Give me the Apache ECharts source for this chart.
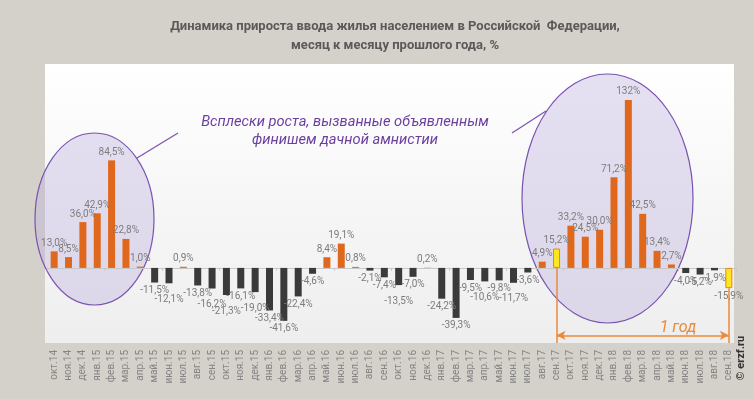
<!DOCTYPE html>
<html>
<head>
<meta charset="utf-8">
<script src="https://cdn.jsdelivr.net/npm/echarts@6/dist/echarts.min.js"></script>
<style>
  html, body { margin: 0; padding: 0; background: #d4d0ca; }
  #chart { width: 753px; height: 399px; }
</style>
</head>
<body>
<div id="chart"></div>
<script>
const months = [
  'окт.14', 'ноя.14', 'дек.14', 'янв.15', 'фев.15', 'мар.15', 'апр.15', 'май.15', 'июн.15', 'июл.15', 'авг.15', 'сен.15',
  'окт.15', 'ноя.15', 'дек.15', 'янв.16', 'фев.16', 'мар.16', 'апр.16', 'май.16', 'июн.16', 'июл.16', 'авг.16', 'сен.16',
  'окт.16', 'ноя.16', 'дек.16', 'янв.17', 'фев.17', 'мар.17', 'апр.17', 'май.17', 'июн.17', 'июл.17', 'авг.17', 'сен.17',
  'окт.17', 'ноя.17', 'дек.17', 'янв.18', 'фев.18', 'мар.18', 'апр.18', 'май.18', 'июн.18', 'июл.18', 'авг.18', 'сен.18'
]
const growth = [
  13.0, 8.5, 36.0, 42.9, 84.5, 22.8, 1.0, -11.5, -12.1, 0.9, -13.8, -16.2,
  -21.3, -16.1, -19.0, -33.4, -41.6, -22.4, -4.6, 8.4, 19.1, 0.8, -2.1, -7.4,
  -13.5, -7.0, 0.2, -24.2, -39.3, -9.5, -10.6, -9.8, -11.7, -3.6, 4.9, 15.2,
  33.2, 24.5, 30.0, 71.2, 132, 42.5, 13.4, 2.7, -4.0, -5.2, -1.9, -15.9
]
// месяцы, отмеченные жёлтым (начало и конец "1 год")
const marked = ['сен.17', 'сен.18']
// подписи, сдвинутые вниз, чтобы не налезали
const pushedDown = ['июн.15', 'сен.15', 'окт.15', 'дек.15', 'окт.16', 'апр.17', 'июн.17']

const orange = '#e0681c'
const dark = '#3a3a3a'
const purple = '#6b3fa0'
const yearColor = '#ea8a3a'
const narrow = '"Liberation Sans Narrow", "Roboto"'

const fmt = v => (Math.abs(v) >= 100 ? String(Math.round(v)) : v.toFixed(1).replace('.', ',')) + '%'

const barData = growth.map((v, i) => {
  const m = months[i]
  let item = { value: v, itemStyle: { color: v >= 0 ? orange : dark } }
  if (marked.includes(m)) {
    item.itemStyle = { color: '#ffe61e', borderColor: '#e8841e', borderWidth: 1 }
  }
  item.label = {
    position: v >= 0 ? 'top' : 'bottom',
    offset: [0, pushedDown.includes(m) ? 8 : 0]
  }
  return item
})

const chart = echarts.init(document.getElementById('chart'))
const option = {
  backgroundColor: '#d4d0ca',
  animation: false,
  textStyle: { fontFamily: 'Roboto' },
  title: {
    text: 'Динамика прироста ввода жилья населением в Российской  Федерации,\nмесяц к месяцу прошлого года, %',
    left: 390,
    textAlign: 'center',
    top: 12,
    textStyle: { fontSize: 13, fontWeight: 'bold', color: '#5a5a5a', lineHeight: 19, fontFamily: 'Roboto' }
  },
  grid: { left: 47, top: 63, width: 689, height: 280 },
  xAxis: [
    {
      type: 'category',
      data: months,
      position: 'bottom',
      axisLine: { show: false, onZero: false },
      axisTick: { show: false },
      axisLabel: { rotate: 90, fontSize: 10, color: '#858585', margin: 7, interval: 0, fontFamily: narrow }
    },
    {
      type: 'category',
      data: months,
      position: 'bottom',
      axisLine: { show: true, onZero: true, lineStyle: { color: '#c8c8c8', width: 1 } },
      axisTick: { show: true, length: 3, lineStyle: { color: '#c8c8c8' } },
      axisLabel: { show: false }
    }
  ],
  yAxis: {
    type: 'value',
    min: -59,
    max: 161,
    show: false,
    splitLine: { show: false }
  },
  graphic: [
    {
      type: 'rect', z: -10,
      shape: { x: 45, y: 64, width: 689, height: 279 },
      style: {
        fill: new echarts.graphic.LinearGradient(0, 0, 0, 1, [
          { offset: 0, color: '#ffffff' }, { offset: 1, color: '#eeeeee' }
        ])
      }
    },
    {
      type: 'ellipse', z: -5,
      shape: { cx: 94.5, cy: 219, rx: 59.5, ry: 86 },
      style: { fill: 'rgba(190,175,220,0.38)', stroke: '#7a52b0', lineWidth: 1.2 }
    },
    {
      type: 'ellipse', z: -5,
      shape: { cx: 607.5, cy: 198.5, rx: 85.5, ry: 124.5 },
      style: { fill: 'rgba(190,175,220,0.38)', stroke: '#7a52b0', lineWidth: 1.2 }
    },
    {
      type: 'line',
      shape: { x1: 178, y1: 133, x2: 137, y2: 158 },
      style: { stroke: '#7a52b0', lineWidth: 1.2 }
    },
    {
      type: 'line',
      shape: { x1: 512, y1: 133, x2: 546, y2: 111 },
      style: { stroke: '#7a52b0', lineWidth: 1.2 }
    },
    {
      type: 'text',
      x: 345, y: 131,
      style: {
        text: 'Всплески роста, вызванные объявленным\nфинишем дачной амнистии',
        align: 'center', verticalAlign: 'middle',
        font: 'italic 14.7px Roboto', fill: purple, lineHeight: 18
      }
    },
    {
      type: 'text',
      x: 678, y: 328,
      style: {
        text: '1 год', align: 'center', verticalAlign: 'middle',
        font: 'italic 16px Roboto', fill: yearColor
      }
    },
    {
      type: 'text',
      x: 741, y: 358, rotation: Math.PI / 2,
      style: {
        text: '© erzf.ru', align: 'center', verticalAlign: 'middle',
        font: 'bold 11px Roboto', fill: '#333'
      }
    }
  ],
  series: [
    {
      type: 'bar',
      xAxisIndex: 0,
      barWidth: 7,
      data: barData,
      label: {
        show: true,
        formatter: p => fmt(p.value),
        fontSize: 10,
        fontFamily: narrow,
        color: '#7c7c7c',
        distance: 3
      },
      markLine: {
        silent: true,
        symbol: ['none', 'none'],
        label: { show: false },
        lineStyle: { color: yearColor, width: 1.5, type: 'solid' },
        data: [
          [{ coord: [marked[0], 0] }, { coord: [marked[0], -59] }],
          [{ coord: [marked[1], growth[months.indexOf(marked[1])]] }, { coord: [marked[1], -59] }],
          [
            { coord: [marked[0], -53], symbol: 'arrow', symbolSize: [7, 9] },
            { coord: [marked[1], -53], symbol: 'arrow', symbolSize: [7, 9] }
          ]
        ]
      }
    }
  ]
}
chart.setOption(option)
</script>
</body>
</html>
